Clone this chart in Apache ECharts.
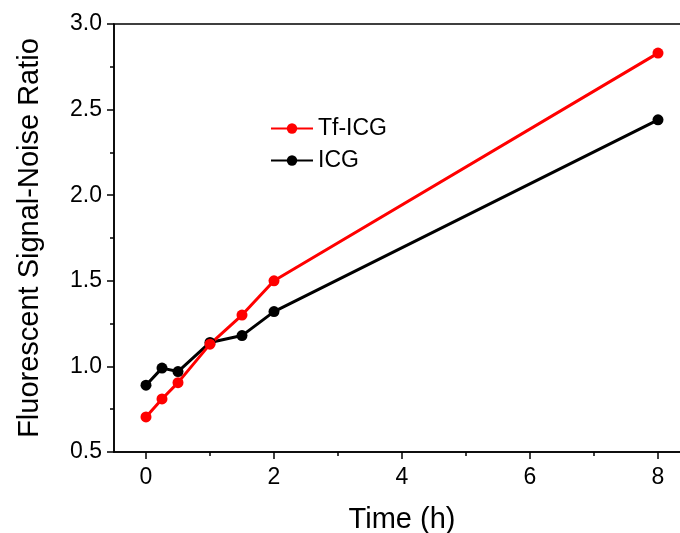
<!DOCTYPE html>
<html>
<head>
<meta charset="utf-8">
<script src="https://cdn.jsdelivr.net/npm/echarts@6/dist/echarts.min.js"></script>
<style>
  html, body { margin: 0; padding: 0; background: #fff; }
  #main { width: 680px; height: 533px; }
</style>
</head>
<body>
<div id="main"></div>
<script>
// time points (h) and signal-noise ratios
const timeH = [0, 0.25, 0.5, 1, 1.5, 2, 8];
const tfIcg = [0.705, 0.81, 0.905, 1.13, 1.30, 1.50, 2.83];
const icg = [0.89, 0.99, 0.97, 1.14, 1.18, 1.32, 2.44];
const xMajorTicks = [0, 2, 4, 6, 8];
const xMinorTicks = [1, 3, 5, 7];

const font = 'Liberation Sans, Arial, sans-serif';
const pairs = (ys) => timeH.map((t, i) => [t, ys[i]]);

// the original frame runs past the right edge of the picture (cut off there)
const xMin = -0.5;
const xMax = 8.5;

const chart = echarts.init(document.getElementById('main'));

const black = { color: '#000', width: 1.5 };

chart.setOption({
  animation: false,
  backgroundColor: '#fff',
  textStyle: { fontFamily: font, color: '#000' },
  grid: {
    left: 114, top: 24, width: 576, height: 428,
    outerBoundsMode: 'none',
    show: true, borderColor: '#000', borderWidth: 1.5, backgroundColor: 'transparent'
  },
  legend: {
    data: ['Tf-ICG', 'ICG'],
    orient: 'vertical',
    left: 270, top: 117,
    itemWidth: 42, itemHeight: 13, itemGap: 9,
    padding: 0,
    textStyle: { fontFamily: font, fontSize: 23, color: '#000' }
  },
  xAxis: [{
    type: 'value', position: 'bottom',
    min: xMin, max: xMax,
    name: 'Time (h)', nameLocation: 'middle', nameGap: 53,
    nameTextStyle: { fontFamily: font, fontSize: 29, color: '#000' },
    axisLine: { onZero: false, lineStyle: black },
    axisTick: { customValues: xMajorTicks, length: 7, lineStyle: black },
    axisLabel: { customValues: xMajorTicks, fontFamily: font, fontSize: 23, color: '#000', margin: 14 },
    splitLine: { show: false }
  }, {
    type: 'value', position: 'bottom', offset: 0,
    min: xMin, max: xMax,
    axisLine: { show: false, onZero: false },
    axisTick: { customValues: xMinorTicks, length: 4, lineStyle: black },
    axisLabel: { show: false },
    splitLine: { show: false }
  }],
  yAxis: {
    type: 'value',
    min: 0.5, max: 3.0, interval: 0.5,
    name: 'Fluorescent Signal-Noise Ratio', nameLocation: 'middle', nameGap: 70,
    nameTextStyle: { fontFamily: font, fontSize: 29, color: '#000' },
    axisLine: { show: true, onZero: false, lineStyle: black },
    axisTick: { show: true, length: 7, lineStyle: black },
    minorTick: { show: true, splitNumber: 2, length: 4, lineStyle: black },
    axisLabel: {
      fontFamily: font, fontSize: 23, color: '#000', margin: 12,
      formatter: (v) => v.toFixed(1)
    },
    splitLine: { show: false }
  },
  series: [{
    name: 'ICG', type: 'line',
    data: pairs(icg),
    symbol: 'circle', symbolSize: 11,
    itemStyle: { color: '#000' },
    lineStyle: { color: '#000', width: 3 }
  }, {
    name: 'Tf-ICG', type: 'line',
    data: pairs(tfIcg),
    symbol: 'circle', symbolSize: 11,
    itemStyle: { color: '#ff0000' },
    lineStyle: { color: '#ff0000', width: 3 }
  }]
});
</script>
</body>
</html>
